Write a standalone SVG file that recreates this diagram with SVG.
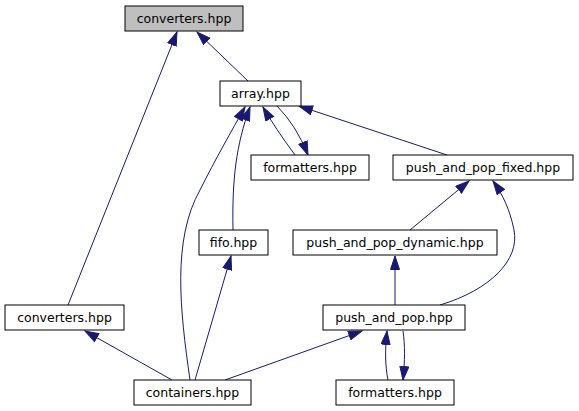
<svg xmlns="http://www.w3.org/2000/svg" width="579" height="411" viewBox="0 0 579 411">
<style>
.n rect{fill:#ffffff;stroke:#000000;stroke-width:1}
.n.top rect{fill:#bfbfbf}
.n text{font-family:"DejaVu Sans",sans-serif;font-size:12.5px;fill:#000000;text-anchor:middle}
.e path{fill:none;stroke:#191970;stroke-width:1;marker-end:url(#ah)}
</style>
<defs>
<marker id="ah" markerUnits="userSpaceOnUse" markerWidth="16" markerHeight="12" refX="14" refY="5" orient="auto">
<path d="M0.5,0.5 L14,5 L0.5,9.5 z" fill="#191970" stroke="#191970" stroke-width="1"/>
</marker>
</defs>
<rect width="579" height="411" fill="#ffffff"/>
<g id="connectors" class="e">
<path d="M68,305 L177,32"/>
<path d="M248,81 L197,32"/>
<path d="M295,155 Q275,128 263,107"/>
<path d="M277,106 Q296,125 308,155"/>
<path d="M233,230 C232,180 236,145 250,107"/>
<path d="M190,380 C180,310 172,240 200,190 C215,160 232,130 245,107"/>
<path d="M447,155 L299,106"/>
<path d="M410,230 L469,181"/>
<path d="M440,305 C490,290 520,260 514,230 C510,210 503,195 493,181"/>
<path d="M395,305 L395,256"/>
<path d="M172,380 L85,331"/>
<path d="M195,380 L231,256"/>
<path d="M225,380 L362,331"/>
<path d="M388,380 C385,365 385,350 387,331"/>
<path d="M403,331 C405,345 405,360 403,380"/>
</g>
<g id="n_converters_top" class="n top"><rect x="125" y="6" width="118" height="25"/><text x="184" y="23">converters.hpp</text></g>
<g id="n_array" class="n"><rect x="220" y="81" width="81" height="25"/><text x="260.5" y="98">array.hpp</text></g>
<g id="n_formatters_mid" class="n"><rect x="251" y="155" width="118" height="25"/><text x="310" y="172">formatters.hpp</text></g>
<g id="n_pp_fixed" class="n"><rect x="393" y="155" width="180" height="25"/><text x="483" y="172">push_and_pop_fixed.hpp</text></g>
<g id="n_fifo" class="n"><rect x="199" y="230" width="69" height="25"/><text x="233.5" y="247">fifo.hpp</text></g>
<g id="n_pp_dynamic" class="n"><rect x="293" y="230" width="204" height="25"/><text x="395" y="247">push_and_pop_dynamic.hpp</text></g>
<g id="n_converters_bottom" class="n"><rect x="5" y="305" width="119" height="25"/><text x="64.5" y="322">converters.hpp</text></g>
<g id="n_pp" class="n"><rect x="323" y="305" width="142" height="25"/><text x="394" y="322">push_and_pop.hpp</text></g>
<g id="n_containers" class="n"><rect x="134" y="380" width="117" height="25"/><text x="192.5" y="397">containers.hpp</text></g>
<g id="n_formatters_bottom" class="n"><rect x="336" y="380" width="118" height="25"/><text x="395" y="397">formatters.hpp</text></g>
</svg>
